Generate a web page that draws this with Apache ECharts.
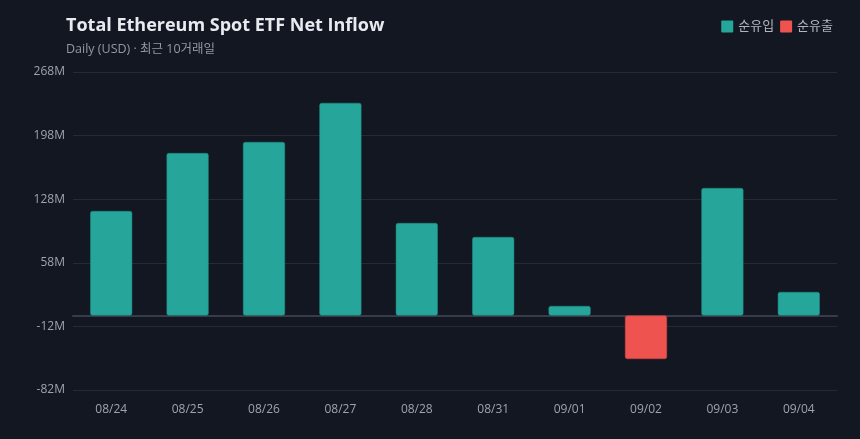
<!DOCTYPE html>
<html>
<head>
    <meta charset="utf-8">
    <title>Total Ethereum Spot ETF Net Inflow</title>
    <script src="https://cdn.jsdelivr.net/npm/echarts@6/dist/echarts.min.js"></script>
    <style>
        html, body { margin: 0; padding: 0; background: #131722; }
    </style>
</head>
<body>
    <div id="main" style="width: 860px;height:439px;"></div>
    <script type="text/javascript">
        // 날짜 / 일별 순유입 (백만 USD)
        var dates = ['08/24', '08/25', '08/26', '08/27', '08/28', '08/31', '09/01', '09/02', '09/03', '09/04'];
        var netFlow = [115, 178.8, 191, 234, 101.8, 86.4, 10.5, -47.9, 140.3, 25.9];
        var yTicks = { min: -82, max: 268, interval: 70 };

        var inflow = netFlow.map(function (v) { return v >= 0 ? v * 1e6 : '-'; });
        var outflow = netFlow.map(function (v) { return v < 0 ? v * 1e6 : '-'; });

        var myChart = echarts.init(document.getElementById('main'));

        var font = 'Open Sans, Noto Sans CJK KR, sans-serif';
        var option = {
            backgroundColor: '#131722',
            textStyle: { fontFamily: font },
            title: {
                text: 'Total Ethereum Spot ETF Net Inflow',
                subtext: 'Daily (USD) · 최근 10거래일',
                left: 61,
                top: 12,
                itemGap: 8,
                textStyle: { color: '#e8eaef', fontSize: 18, fontWeight: 'bold', fontFamily: font },
                subtextStyle: { color: '#9598a1', fontSize: 12.5, fontFamily: font }
            },
            legend: {
                right: 22,
                top: 15,
                itemWidth: 12,
                itemHeight: 12,
                itemGap: 6,
                icon: 'path://M1,0 L11,0 Q12,0 12,1 L12,11 Q12,12 11,12 L1,12 Q0,12 0,11 L0,1 Q0,0 1,0 Z',
                itemStyle: { borderWidth: 0 },
                textStyle: { color: '#b2b5be', fontSize: 13 },
                data: ['순유입', '순유출']
            },
            grid: { left: 73, right: 23, top: 72, bottom: 49 },
            xAxis: {
                type: 'category',
                data: dates,
                axisLine: { onZero: true, lineStyle: { color: '#363c4a', width: 2 } },
                axisTick: { show: false },
                axisLabel: { color: '#9ea3ad', fontSize: 12, margin: 14 },
                position: 'bottom'
            },
            yAxis: {
                type: 'value',
                min: yTicks.min * 1e6,
                max: yTicks.max * 1e6,
                interval: yTicks.interval * 1e6,
                axisLine: { show: false },
                axisTick: { show: false },
                splitLine: { lineStyle: { color: '#252a35', width: 1 } },
                axisLabel: {
                    color: '#9ea3ad',
                    fontSize: 12,
                    margin: 8,
                    formatter: function (v) { return Math.round(v / 1e6) + 'M'; }
                }
            },
            series: [
                {
                    name: '순유입',
                    type: 'bar',
                    stack: 'flow',
                    barWidth: '55%',
                    data: inflow,
                    itemStyle: { color: '#26a69a', borderRadius: 2, borderColor: '#1f8a80', borderWidth: 0.5 }
                },
                {
                    name: '순유출',
                    type: 'bar',
                    stack: 'flow',
                    barWidth: '55%',
                    data: outflow,
                    itemStyle: { color: '#ef5350', borderRadius: 2, borderColor: '#c94440', borderWidth: 0.5 }
                }
            ]
        };
        myChart.setOption(option);
    </script>
</body>
</html>
